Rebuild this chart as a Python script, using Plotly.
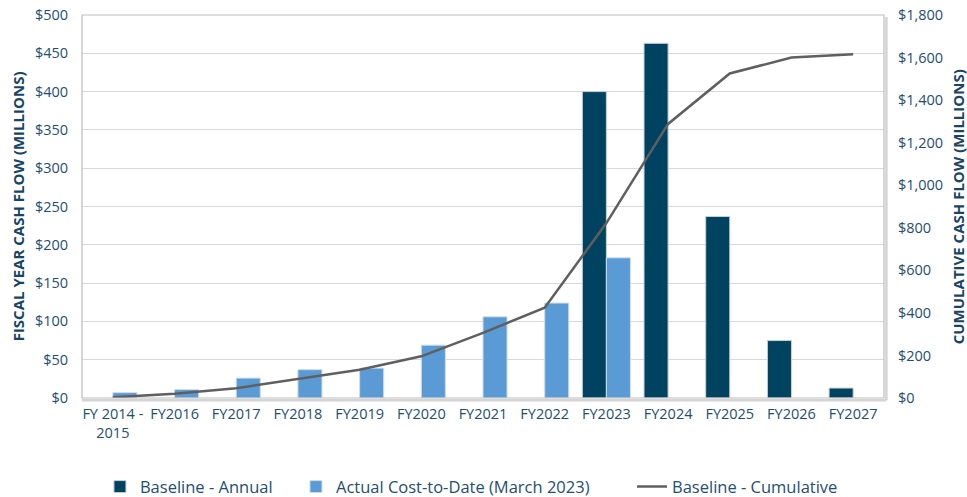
import plotly.graph_objects as go

# Fiscal-year categories shown on the x axis
categories = [
    "FY 2014 -<br>2015", "FY2016", "FY2017", "FY2018", "FY2019", "FY2020",
    "FY2021", "FY2022", "FY2023", "FY2024", "FY2025", "FY2026", "FY2027",
]

# Annual cash flow ($M), left axis
baseline_annual = [None, None, None, None, None, None, None, None, 400, 463, 237, 75, 13]
actual_to_date = [7, 11, 26, 37, 39, 69, 106, 124, 183, None, None, None, None]

# Cumulative cash flow ($M), right axis
baseline_cumulative = [3, 20, 46, 90, 133, 196, 306, 424, 822, 1288, 1525, 1600, 1615]

NAVY = "#004360"
LIGHT = "#5B9BD5"
LINE = "#5F5F5F"
TEXT = "#1F4E6E"
FONT = "Open Sans"
TICK_SIZE = 14.5

fig = go.Figure()

fig.add_trace(go.Bar(
    x=categories, y=baseline_annual, name="Baseline - Annual",
    marker=dict(color=NAVY, line=dict(color="#C8D0D6", width=1)),
    legend="legend",
))
fig.add_trace(go.Bar(
    x=categories, y=actual_to_date, name="Actual Cost-to-Date (March 2023)",
    marker=dict(color=LIGHT, line=dict(color="#D0DCE8", width=1)),
    legend="legend2",
))
fig.add_trace(go.Scatter(
    x=categories, y=baseline_cumulative, name="Baseline - Cumulative",
    mode="lines", line=dict(color=LINE, width=2.5),
    yaxis="y2", legend="legend3",
))

legend_common = dict(
    orientation="h", yanchor="middle", y=-0.232, xanchor="left",
    font=dict(family=FONT, size=16.5, color=TEXT), bgcolor="rgba(0,0,0,0)",
)

fig.update_layout(
    width=967, height=497,
    margin=dict(l=82, r=83, t=15, b=99, autoexpand=False),
    paper_bgcolor="white", plot_bgcolor="white",
    showlegend=True,
    barmode="group", bargap=0.22, bargroupgap=0,
    font=dict(family=FONT, size=TICK_SIZE, color=TEXT),
    xaxis=dict(
        showgrid=False, showline=False, zeroline=False,
        ticks="outside", ticklen=3, tickcolor="rgba(0,0,0,0)",
        tickfont=dict(family=FONT, size=TICK_SIZE, color=TEXT),
    ),
    yaxis=dict(
        range=[0, 500], dtick=50, tickprefix="$",
        showgrid=True, gridcolor="#D9D9D9", gridwidth=1,
        zeroline=False, showline=False,
        ticks="outside", ticklen=10, tickcolor="rgba(0,0,0,0)",
        tickfont=dict(family=FONT, size=TICK_SIZE, color=TEXT),
    ),
    yaxis2=dict(
        range=[0, 1800], dtick=200, tickprefix="$", tickformat=",",
        overlaying="y", side="right", showgrid=False, zeroline=False,
        showline=False,
        ticks="outside", ticklen=10, tickcolor="rgba(0,0,0,0)",
        tickfont=dict(family=FONT, size=TICK_SIZE, color=TEXT),
    ),
    legend=dict(x=0.0224, **legend_common),
    legend2=dict(x=0.2668, **legend_common),
    legend3=dict(x=0.6858, **legend_common),
    annotations=[
        dict(text="<b>FISCAL YEAR CASH FLOW (MILLIONS)</b>", textangle=-90,
             xref="paper", yref="paper", x=-0.08, y=0.5, xanchor="center",
             yanchor="middle", showarrow=False,
             font=dict(family=FONT, size=15, color="#174566")),
        dict(text="<b>CUMULATIVE CASH FLOW (MILLIONS)</b>", textangle=-90,
             xref="paper", yref="paper", x=1.092, y=0.5, xanchor="center",
             yanchor="middle", showarrow=False,
             font=dict(family=FONT, size=15, color="#174566")),
    ],
    shapes=[
        # soft shadow along the right and bottom edges of the plot frame
        dict(type="line", xref="paper", yref="paper", x0=1.003, x1=1.003, y0=-0.006, y1=0.995,
             line=dict(color="#D4D4D4", width=2.5)),
        dict(type="line", xref="paper", yref="paper", x0=0.0, x1=1.003, y0=-0.006, y1=-0.006,
             line=dict(color="#D4D4D4", width=2.5)),
        # plot frame
        dict(type="rect", xref="paper", yref="paper", x0=0, x1=1, y0=0, y1=1,
             line=dict(color="#BDBDBD", width=1.2), layer="above"),
    ],
)

fig.write_html("out.html")
